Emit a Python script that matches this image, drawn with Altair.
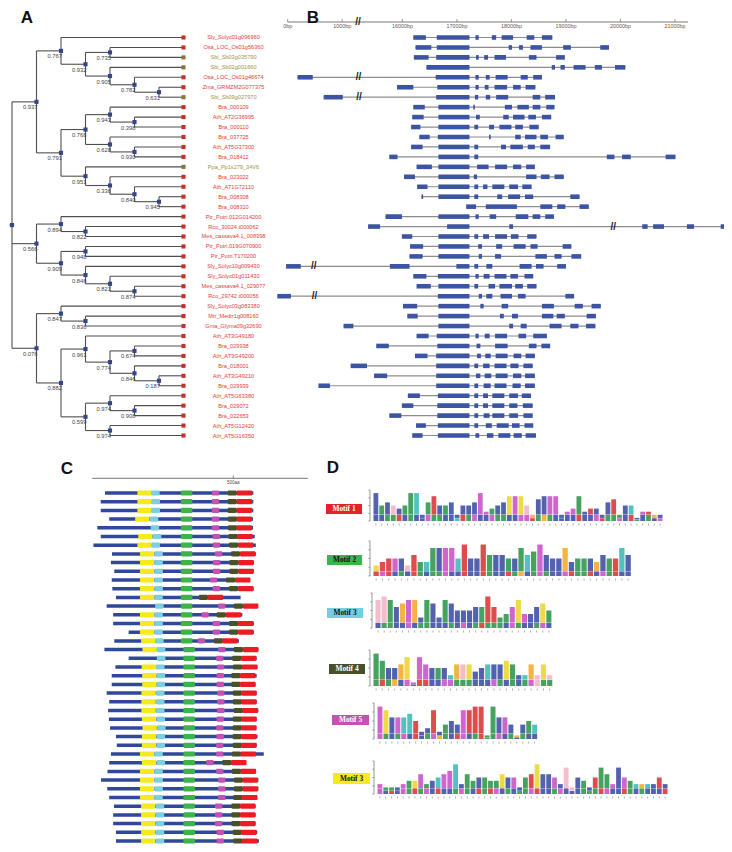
import altair as alt
import pandas as pd

FONT = "Liberation Sans"
SERIF = "Liberation Serif"

# ====================== DATA ======================
# ---- Panel A: tree leaves and topology (bootstrap support, children) ----
LEAVES = [
    "Sly_Solyc01g096960", "Osa_LOC_Os01g56360", "Sbi_Sb03g035790", "Sbi_Sb02g001660",
    "Osa_LOC_Os01g46674", "Zma_GRMZM2G077375", "Sbi_Sb09g027970", "Bra_000109",
    "Ath_AT2G36995", "Bra_000110", "Bra_037725", "Ath_AT5G37300", "Bra_018412",
    "Ppa_Pp1s279_34V6", "Bra_023022", "Ath_AT1G72110", "Bra_008308", "Bra_008310",
    "Ptr_Potri.012G014200", "Rco_30024.t000062", "Mes_cassava4.1_008398",
    "Ptr_Potri.019G070900", "Ptr_Potri.T170200", "Sly_Solyc10g009430", "Sly_Solyc01g011430",
    "Mes_cassava4.1_029077", "Rco_29742.t000056", "Sly_Solyc03g083380", "Mtr_Medtr1g008160",
    "Gma_Glyma09g32690", "Ath_AT3G49180", "Bra_029938", "Ath_AT3G49200", "Bra_018001",
    "Ath_AT3G49210", "Bra_029939", "Ath_AT5G63380", "Bra_029072", "Bra_022653",
    "Ath_AT5G12420", "Ath_AT5G16350",
]
OLIVE_LEAVES = ["Sbi_Sb03g035790", "Sbi_Sb02g001660", "Sbi_Sb09g027970", "Ppa_Pp1s279_34V6"]

TREE = ("", [
    ("0.937", [
        ("0.767", [0, ("0.932", [("0.735", [1, 2]),
                                 ("0.905", [3, ("0.782", [4, ("0.631", [5, 6])])])])]),
        ("0.791", [
            ("0.768", [("0.943", [7, ("0.398", [8, 9])]), ("0.628", [10, ("0.930", [11, 12])])]),
            ("0.951", [13, ("0.336", [14, ("0.840", [15, ("0.945", [16, 17])])])]),
        ]),
    ]),
    ("0.566", [("0.894", [18, ("0.822", [19, 20])]),
               ("0.909", [("0.948", [21, 22]),
                          ("0.846", [23, ("0.821", [24, ("0.874", [25, 26])])])])]),
    ("0.076", [("0.847", [27, ("0.836", [28, 29])]),
               ("0.882", [("0.961", [30, ("0.774", [("0.674", [31, 32]),
                                                    ("0.846", [33, ("0.187", [34, 35])])])]),
                          ("0.599", [("0.974", [36, ("0.908", [37, 38])]),
                                     ("0.974", [39, 40])])])]),
])

# ---- Panel B: exon coordinates (bp) per gene, in tree order ----
GENE_EXONS = [
    [(16200, 16430), (16630, 17230), (17340, 17400), (17640, 17720), (17820, 18030), (18280, 18420), (18560, 18750)],
    [(16240, 16530), (16630, 17230), (17950, 18010), (18140, 18210), (18350, 18560), (18950, 19090), (19630, 19790)],
    [(16210, 16480), (16620, 17230), (17350, 17400), (17500, 17570), (17690, 17900), (18320, 18460), (18820, 18980)],
    [(16440, 17230), (18740, 18800), (18900, 18980), (19140, 19360), (19530, 19660), (19900, 20090)],
    [(180, 460), (16610, 17230), (17340, 17400), (17530, 17600), (17710, 17930), (18170, 18300), (18400, 18560)],
    [(15900, 16200), (16640, 17230), (17340, 17400), (17510, 17580), (17690, 17920), (18030, 18170), (18260, 18440)],
    [(660, 1010), (16620, 17230), (17330, 17390), (17530, 17610), (17720, 17940), (18390, 18530), (18620, 18800)],
    [(16200, 16410), (16660, 17230), (17300, 17330), (17880, 18010), (18110, 18320), (18390, 18530), (18640, 18790)],
    [(16180, 16390), (16660, 17230), (17350, 17420), (17850, 17950), (18030, 18240), (18310, 18450), (18560, 18730)],
    [(16160, 16330), (16660, 17230), (17320, 17390), (17590, 17680), (17780, 18000), (18070, 18210), (18330, 18500)],
    [(16310, 16500), (16650, 17230), (17590, 17620), (18070, 18170), (18250, 18460), (18530, 18670), (18810, 18960)],
    [(16160, 16370), (16660, 17230), (17320, 17390), (17810, 17900), (17980, 18210), (18300, 18430), (18530, 18710)],
    [(15760, 15910), (16660, 17230), (17320, 17390), (19750, 19890), (20030, 20190), (20830, 21010)],
    [(16260, 16540), (16660, 17230), (17370, 17580), (17700, 17920), (18030, 18180), (18270, 18430)],
    [(16030, 16230), (16660, 17230), (17310, 17370), (18270, 18460), (18540, 18700), (18790, 18960)],
    [(16270, 16460), (16660, 17230), (17320, 17390), (17480, 17560), (17650, 17870), (17960, 18120), (18200, 18370)],
    [(16350, 16380), (16660, 17230), (17320, 17390), (17740, 17830), (17940, 18160), (18250, 18400), (19080, 19250)],
    [(17170, 17350), (17530, 18100), (18530, 18750), (18840, 18990), (19250, 19420)],
    [(15690, 15990), (16660, 17230), (17340, 17400), (17600, 17720), (18080, 18310), (18390, 18530), (18620, 18780)],
    [(15370, 15590), (16820, 17230), (17960, 18030), (20400, 20500), (20600, 20800), (21220, 21350), (21840, 21990)],
    [(15990, 16180), (16660, 17230), (17320, 17390), (17480, 17590), (17700, 17920), (17990, 18130), (18290, 18460)],
    [(16140, 16380), (16660, 17230), (17390, 17460), (17720, 17830), (18040, 18260), (18350, 18480), (18940, 19100)],
    [(16130, 16370), (16660, 17230), (17400, 17460), (17700, 17810), (18440, 18650), (18790, 18920), (19100, 19280)],
    [(-30, 240), (15770, 16130), (16990, 17230), (17320, 17390), (17540, 17650), (18150, 18370), (18450, 18590), (18840, 19000)],
    [(16200, 16440), (16650, 17230), (17340, 17400), (17490, 17600), (17690, 17910), (17980, 18120), (18240, 18400)],
    [(16260, 16520), (16660, 17230), (17320, 17390), (17580, 17700), (17780, 18010), (18070, 18210), (18290, 18460)],
    [(-190, 60), (16650, 17230), (17400, 17460), (17540, 17650), (17800, 18010), (18120, 18260), (18990, 19150)],
    [(16010, 16270), (16660, 17230), (17430, 17490), (17820, 17940), (18560, 18780), (19160, 19310), (19470, 19640)],
    [(16090, 16280), (16660, 17230), (17790, 17860), (18010, 18120), (18560, 18770), (18830, 18980), (19380, 19550)],
    [(14920, 15100), (16660, 17230), (17960, 18030), (18170, 18280), (18700, 18920), (19080, 19230), (19370, 19540)],
    [(16260, 16480), (16630, 17230), (17340, 17400), (17510, 17600), (17700, 17920), (18130, 18270), (18400, 18650)],
    [(15520, 15750), (16640, 17230), (17360, 17430), (17700, 17930), (18320, 18460), (18550, 18710)],
    [(16230, 16460), (16620, 17230), (17370, 17440), (17520, 17620), (17710, 17930), (18040, 18180), (18260, 18430)],
    [(15050, 15350), (16620, 17230), (17320, 17390), (17480, 17600), (17690, 17910), (17980, 18130), (18220, 18390)],
    [(15480, 15720), (16620, 17230), (17350, 17430), (17510, 17630), (17710, 17930), (18030, 18180), (18250, 18430)],
    [(14460, 14670), (16620, 17230), (17320, 17390), (17490, 17620), (17690, 17910), (18020, 18170), (18250, 18430)],
    [(16100, 16320), (16650, 17230), (17320, 17390), (17480, 17570), (17650, 17870), (17960, 18120), (18190, 18360)],
    [(15990, 16200), (16640, 17230), (17320, 17390), (17480, 17570), (17650, 17870), (17960, 18110), (18210, 18390)],
    [(15760, 15980), (16640, 17230), (17320, 17390), (17490, 17600), (17650, 17870), (17960, 18120), (18220, 18390)],
    [(16250, 16430), (16650, 17230), (17320, 17390), (17530, 17640), (17730, 17950), (18010, 18150), (18240, 18400)],
    [(16180, 16370), (16650, 17230), (17340, 17410), (17550, 17670), (17760, 17980), (18040, 18190), (18260, 18450)],
]
GENE_BREAKS = {4: [1300], 6: [1310], 19: [19870], 23: [480], 26: [490]}
AXIS_BP = [0, 1000, 16000, 17000, 18000, 19000, 20000, 21000]
AXIS_END_BP = 21240
AXIS_BREAK_BP = 1290

# ---- Panel C: protein length and motif start positions (aa) ----
MOTIF_KEYS = ["Y", "C", "G", "M", "O", "R"]
MOTIF_LEN = {"Y": 51, "C": 30, "G": 41, "M": 26, "O": 32, "R": 55}
MOTIF_ROWS = [
    (45, 571, 160, 209, 314, 424, 480, 512), (30, 571, 160, 210, 314, 424, 480, 512),
    (30, 571, 160, 210, 314, 424, 480, 512), (60, 570, 152, 204, 314, 424, 481, 512),
    (18, 570, None, 207, 314, 424, 481, 512), (30, 576, 163, 215, 314, 427, 483, 514),
    (4, 580, 160, 210, 314, 427, 485, 517), (70, 580, 169, 220, 314, 435, 492, 524),
    (66, 573, 169, 220, 314, 428, 486, 518), (78, 573, 169, 220, 314, 428, 486, 518),
    (69, 559, 169, 220, 314, 417, 474, 506), (71, 572, 169, 220, 314, 427, 485, 517),
    (84, 526, 169, 220, 314, None, 378, 409), (51, 586, None, 223, 314, 446, 502, 534),
    (74, 532, 169, 220, 314, 387, 441, 473), (74, 573, 169, 220, 314, 427, 485, 517),
    (129, 573, 169, 220, 314, 427, 485, 517), (78, 520, 173, 223, 314, 374, 431, 461),
    (43, 589, 178, 229, 323, 446, 502, 534), (129, 583, None, 229, 323, 439, 496, 527),
    (82, 585, 175, 226, 323, 442, 499, 531), (69, 583, 177, 228, 323, 441, 493, 524),
    (69, 579, 177, 228, 323, 441, 493, 524), (51, 583, 174, 226, 323, 443, 498, 528),
    (60, 583, 174, 226, 323, 443, 498, 528), (56, 589, 174, 226, 323, 443, 502, 533),
    (59, 583, 176, 228, 323, 441, 498, 528), (63, 580, 178, 230, 323, 439, 498, 528),
    (84, 586, 176, 228, 323, 441, 498, 528), (87, 583, 176, 228, 323, 439, 498, 528),
    (66, 608, 169, 220, 323, 439, 495, 526), (60, 544, 176, 228, 323, 404, 461, 492),
    (54, 579, 169, 220, 323, 439, 495, 526), (31, 589, 169, 220, 323, 446, 502, 533),
    (53, 589, 169, 220, 323, 446, 502, 533), (60, 583, 169, 220, 323, 446, 500, 531),
    (77, 579, 173, 225, 323, 435, 493, 524), (74, 579, 173, 225, 323, 435, 493, 524),
    (74, 579, 173, 225, 323, 435, 493, 524), (84, 585, 173, 225, 323, 441, 498, 528),
    (84, 591, 173, 225, 323, 441, 500, 531),
]
PROT_AXIS_END = 764
PROT_TICK = 500

# ---- Panel D: motif logos (consensus letters, column heights 0-9, minor letters) ----
LOGO_NAMES = ["Motif 1", "Motif 2", "Motif 3", "Motif 4", "Motif 5", "Motif 3"]
LOGO_SEQS = [
    "LTIHFQSYANKMTIVLAVDETVIPDPHGLCDDLEESLKLLIKSAYLEKGL",
    "PKREVHRTYSLDDYKLVKNAMNMTYNDVLLGVTQAGLSRYL",
    "HHSLGDGMSLMSLLLACTRKTSDPEALPT",
    "SNVVGPDEEISFYGHPIAYIAPSVYGHPH",
    "DPLEYYRLAKATIMDRKKNSLEAGFTY",
    "DNNIENPDQFYEDYISNLTTTPMDLSKPLWEFHHLNLKTSDAESYGYLRL",
]
LOGO_HTS = [
    "95654599268556255693456888527888234834426725513322",
    "34555364488885955966655867965584555465586",
    "89867883873875556696346844675",
    "97556818655536664566676336363",
    "986667523824548899196641454",
    "32223446345679364554465525696653825425863854333353",
]
LOGO_MINOR = [
    "VASNKVTIAEQSVLYKNEIAESTVAEDKSGNVLAVRAVEKSQDLKTVSAE",
    "RDKVTLKSFTNEAIRVIRSVAKSGFTESIAEKNSRVESKFV",
    "ATSVAEFSTIAVNAEVSKSQSAENVLSEA",
    "TKSGADVRKVLEDNSSVFAENFTASEHNQ",
    "ETVNDIKLSEGSVKELNRTQDATVSLF",
    "EAKVDSRNEAKVLSDNIRSKDATVNSEKVINDALVQSNKEVAKSLTVIAK",
]

# ====================== STYLE / LAYOUT ======================
RED_TXT, OLIVE_TXT = "#e63c36", "#a39246"
RED_SQ, OLIVE_SQ = "#c4302b", "#857640"
NODE_COL, BRANCH_COL = "#34458f", "#4f4f4f"
EXON_COL, INTRON_COL = "#3b54a3", "#8c8c8c"
MOTIF_COL = {"Y": "#f6ea1f", "C": "#7ccfe0", "G": "#3cb44a", "M": "#c352b3", "O": "#4a5127", "R": "#ec1c24"}
BACKBONE = "#2f4899"
AA_COL = {}
for a in "ACFILVWM":
    AA_COL[a] = "#2c3f9c"
for a in "NQST":
    AA_COL[a] = "#1d8f3c"
for a in "DE":
    AA_COL[a] = "#c544c3"
for a in "KR":
    AA_COL[a] = "#d42626"
AA_COL.update({"H": "#f3adbf", "G": "#f2a41c", "P": "#e8d31c", "Y": "#2db4b1"})

W_A, W_B, W_C, W_D = 264, 452, 310, 406
H_TOP, H_BOT = 447, 389

XA = alt.Scale(domain=[-0.163, 10.612], nice=False, zero=False)
YT = alt.Scale(domain=[-2.864, 42.06], nice=False, zero=False, reverse=True)
XB = alt.Scale(domain=[-288.1, 8005.5], nice=False, zero=False)
XC = alt.Scale(domain=[-298.9, 800.4], nice=False, zero=False)
YC = alt.Scale(domain=[-4.253, 40.46], nice=False, zero=False, reverse=True)
XD = alt.Scale(domain=[0, W_D], nice=False, zero=False)
YD = alt.Scale(domain=[0, H_BOT], nice=False, zero=False, reverse=True)


def rules(df, sx, sy, color, width, clip=False):
    return alt.Chart(df).mark_rule(color=color, strokeWidth=width, clip=clip).encode(
        x=alt.X("x:Q", scale=sx, axis=None), x2="x2:Q",
        y=alt.Y("y:Q", scale=sy, axis=None), y2="y2:Q")


def rects(df, sx, sy, clip=False, **kw):
    return alt.Chart(df).mark_rect(clip=clip, **kw).encode(
        x=alt.X("x:Q", scale=sx, axis=None), x2="x2:Q",
        y=alt.Y("y:Q", scale=sy, axis=None), y2="y2:Q",
        color=alt.Color("c:N", scale=None))


def texts(df, sx, sy, **kw):
    enc = dict(x=alt.X("x:Q", scale=sx, axis=None), y=alt.Y("y:Q", scale=sy, axis=None),
               text="t:N")
    if "c" in df.columns:
        enc["color"] = alt.Color("c:N", scale=None)
    return alt.Chart(df).mark_text(**kw).encode(**enc)


# ====================== PANEL A ======================
LEAF_DEPTH = 7
LABEL_DEPTH = 9.04
segs, nodes = [], []


def walk(node, depth):
    if isinstance(node, int):
        return LEAF_DEPTH, node
    sup, kids = node
    pos = [walk(k, depth + 1) for k in kids]
    y = (pos[0][1] + pos[-1][1]) / 2
    segs.append(dict(x=depth, x2=depth, y=pos[0][1], y2=pos[-1][1]))
    for cx, cy in pos:
        segs.append(dict(x=depth, x2=cx, y=cy, y2=cy))
    nodes.append(dict(x=depth, y=y, t=sup))
    return depth, y


_, root_y = walk(TREE, 0)
segs.append(dict(x=-0.1, x2=0, y=root_y, y2=root_y))
seg_df = pd.DataFrame(segs)
node_df = pd.DataFrame(nodes)
leaf_df = pd.DataFrame({
    "t": LEAVES,
    "y": list(range(len(LEAVES))),
    "x": [LEAF_DEPTH] * len(LEAVES),
    "c": [OLIVE_SQ if n in OLIVE_LEAVES else RED_SQ for n in LEAVES],
})
lab_df = leaf_df.assign(x=LABEL_DEPTH,
                        c=[OLIVE_TXT if n in OLIVE_LEAVES else RED_TXT for n in LEAVES])

panelA = alt.layer(
    rules(seg_df, XA, YT, BRANCH_COL, 1.1),
    alt.Chart(node_df).mark_square(size=17, color=NODE_COL, opacity=1).encode(
        x=alt.X("x:Q", scale=XA, axis=None), y=alt.Y("y:Q", scale=YT, axis=None)),
    texts(node_df[node_df.t != ""], XA, YT, align="right", baseline="top", dx=1, dy=2.5,
          fontSize=5.8, font=FONT, color="#454545"),
    alt.Chart(leaf_df).mark_square(size=17, opacity=1).encode(
        x=alt.X("x:Q", scale=XA, axis=None), y=alt.Y("y:Q", scale=YT, axis=None),
        color=alt.Color("c:N", scale=None)),
    texts(lab_df, XA, YT, align="center", baseline="middle", fontSize=5.6, font=FONT),
    texts(pd.DataFrame({"x": [0.612], "y": [-1.95], "t": ["A"]}), XA, YT,
          fontSize=17, fontWeight="bold", font=FONT, color="#111", baseline="middle"),
).properties(width=W_A, height=H_TOP)

# ====================== PANEL B ======================
BREAK_SHIFT = 13895


def disp(bp):
    return bp - BREAK_SHIFT if bp > 5000 else bp


ex_rows, in_rows, br_rows = [], [], []
for r, exons in enumerate(GENE_EXONS):
    in_rows.append(dict(x=disp(min(s for s, _ in exons)), x2=disp(max(e for _, e in exons)),
                        y=r, y2=r))
    for s, e in exons:
        ex_rows.append(dict(x=disp(s), x2=disp(e), y=r - 0.23, y2=r + 0.23, c=EXON_COL))
for r, bl in GENE_BREAKS.items():
    for b in bl:
        br_rows.append(dict(x=disp(b), y=r, t="//"))

AX_Y = -1.558
axis_line = pd.DataFrame([dict(x=0, x2=disp(AXIS_END_BP), y=AX_Y, y2=AX_Y)])
axis_ticks = pd.DataFrame([dict(x=disp(v), x2=disp(v), y=AX_Y, y2=AX_Y - 0.28) for v in AXIS_BP])
axis_labs = pd.DataFrame([dict(x=disp(v), y=AX_Y + 0.45, t=f"{v}bp") for v in AXIS_BP])

panelB = alt.layer(
    rules(pd.DataFrame(in_rows), XB, YT, INTRON_COL, 1.2, clip=True),
    rects(pd.DataFrame(ex_rows), XB, YT, clip=True),
    texts(pd.DataFrame(br_rows), XB, YT, fontSize=10, font=FONT, color="#222",
          baseline="middle", fontWeight="bold"),
    rules(axis_line, XB, YT, "#777", 1),
    rules(axis_ticks, XB, YT, "#777", 0.8),
    texts(axis_labs, XB, YT, fontSize=5.4, font=FONT, color="#6a5656", baseline="middle"),
    texts(pd.DataFrame([dict(x=AXIS_BREAK_BP, y=AX_Y, t="//")]), XB, YT, fontSize=10,
          font=FONT, color="#222", baseline="middle", fontWeight="bold"),
    texts(pd.DataFrame([dict(x=464, y=-2.0, t="B")]), XB, YT, fontSize=17,
          fontWeight="bold", font=FONT, color="#111", baseline="middle"),
).properties(width=W_B, height=H_TOP)

# ====================== PANEL C ======================
bb_rows, mo_rows = [], []
for r, row in enumerate(MOTIF_ROWS):
    start, end = row[0], row[1]
    bb_rows.append(dict(x=start, x2=end, y=r - 0.2, y2=r + 0.2, c=BACKBONE))
    for key, pos in zip(MOTIF_KEYS, row[2:]):
        if pos is None:
            continue
        mo_rows.append(dict(x=pos, x2=pos + MOTIF_LEN[key], y=r - 0.3, y2=r + 0.3,
                            c=MOTIF_COL[key]))
CAX_Y = -1.69
panelC = alt.layer(
    rules(pd.DataFrame([dict(x=0, x2=PROT_AXIS_END, y=CAX_Y, y2=CAX_Y)]), XC, YC, "#666", 0.9),
    rules(pd.DataFrame([dict(x=PROT_TICK, x2=PROT_TICK, y=CAX_Y, y2=CAX_Y - 0.33)]), XC, YC,
          "#666", 0.8),
    texts(pd.DataFrame([dict(x=PROT_TICK, y=CAX_Y + 0.5, t=f"{PROT_TICK}aa")]), XC, YC,
          fontSize=4.6, font=FONT, color="#555", baseline="middle"),
    rects(pd.DataFrame(bb_rows), XC, YC),
    rects(pd.DataFrame(mo_rows), XC, YC, cornerRadius=1.2),
    texts(pd.DataFrame([dict(x=-89.7, y=-2.76, t="C")]), XC, YC, fontSize=17,
          fontWeight="bold", font=FONT, color="#111", baseline="middle"),
).properties(width=W_C, height=H_BOT)

# ====================== PANEL D ======================
D_LEFT, D_TOP = 318, 455
LOGO_LEFT = [373, 373, 375, 373, 377, 377]
LOGO_COLW = [5.8, 6.3, 6.1, 6.2, 5.95, 5.82]
LOGO_BASE = [520, 575, 627, 685, 738, 793]
LOGO_FULL = [31, 35, 35, 36, 36, 33]
LOGO_MINOR_H = [2.0, 1.3, 1.5, 1.7, 1.5, 1.7]
LABEL_BOX = [(326, 362, 503, 513), (327, 362, 554, 564), (327, 363, 607, 617),
             (329, 365, 663, 673), (332, 369, 714, 724), (333, 370, 772, 783)]
LABEL_FILL = ["#e8202a", "#3db34a", "#74cde0", "#47502a", "#c452b4", "#f4ea1e"]
LABEL_TXT = ["#ffffff", "#111111", "#111111", "#ffffff", "#ffffff", "#111111"]

box_rows, box_txt, glyph_rows, ax_rows, num_rows = [], [], [], [], []
for k, name in enumerate(LOGO_NAMES):
    x0, x1, y0, y1 = LABEL_BOX[k]
    box_rows.append(dict(x=x0 - D_LEFT, x2=x1 - D_LEFT, y=y0 - D_TOP, y2=y1 - D_TOP,
                         c=LABEL_FILL[k]))
    box_txt.append(dict(x=(x0 + x1) / 2 - D_LEFT, y=(y0 + y1) / 2 - D_TOP, t=name,
                        c=LABEL_TXT[k]))
    base = LOGO_BASE[k] - D_TOP
    unit = LOGO_FULL[k] / 10.0
    left = LOGO_LEFT[k] - D_LEFT
    cw = LOGO_COLW[k]
    for j, (aa, h, mn) in enumerate(zip(LOGO_SEQS[k], LOGO_HTS[k], LOGO_MINOR[k])):
        h = int(h)
        minor = LOGO_MINOR_H[k] if h >= 3 else h * 0.45
        gx0 = left + j * cw + 0.5
        gx1 = left + (j + 1) * cw - 0.5
        glyph_rows.append(dict(x=gx0, x2=gx1, y=base, y2=base - minor * unit, c=AA_COL[mn]))
        glyph_rows.append(dict(x=gx0, x2=gx1, y=base - minor * unit - 0.3, y2=base - h * unit,
                               c=AA_COL[aa]))
        num_rows.append(dict(x=left + (j + 0.5) * cw, x2=left + (j + 0.5) * cw,
                             y=base + 2.5, y2=base + 4.5))
    ax_rows.append(dict(x=left - 3, x2=left - 3, y=base, y2=base - LOGO_FULL[k]))
    for t in range(5):
        yy = base - t * LOGO_FULL[k] / 4
        ax_rows.append(dict(x=left - 4.5, x2=left - 3, y=yy, y2=yy))

panelD = alt.layer(
    rects(pd.DataFrame(box_rows), XD, YD),
    texts(pd.DataFrame(box_txt), XD, YD, fontSize=7.4, font=SERIF, fontWeight="bold",
          baseline="middle"),
    rects(pd.DataFrame(glyph_rows), XD, YD, opacity=0.82),
    rules(pd.DataFrame(ax_rows), XD, YD, "#555", 0.6),
    rules(pd.DataFrame(num_rows), XD, YD, "#8a8a8a", 0.7),
    texts(pd.DataFrame([dict(x=15, y=12, t="D")]), XD, YD, fontSize=17, fontWeight="bold",
          font=FONT, color="#111", baseline="middle"),
).properties(width=W_D, height=H_BOT)

# ====================== ASSEMBLY ======================
top = alt.hconcat(panelA, panelB, spacing=0, bounds="flush").resolve_scale(
    x="independent", y="independent")
bottom = alt.hconcat(panelC, panelD, spacing=0, bounds="flush").resolve_scale(
    x="independent", y="independent")
chart = alt.vconcat(top, bottom, spacing=0).resolve_scale(
    x="independent", y="independent").properties(padding=0).configure_view(
    strokeWidth=0, stroke="transparent")

chart.save("out.html", embed_options={"renderer": "svg", "actions": False})
